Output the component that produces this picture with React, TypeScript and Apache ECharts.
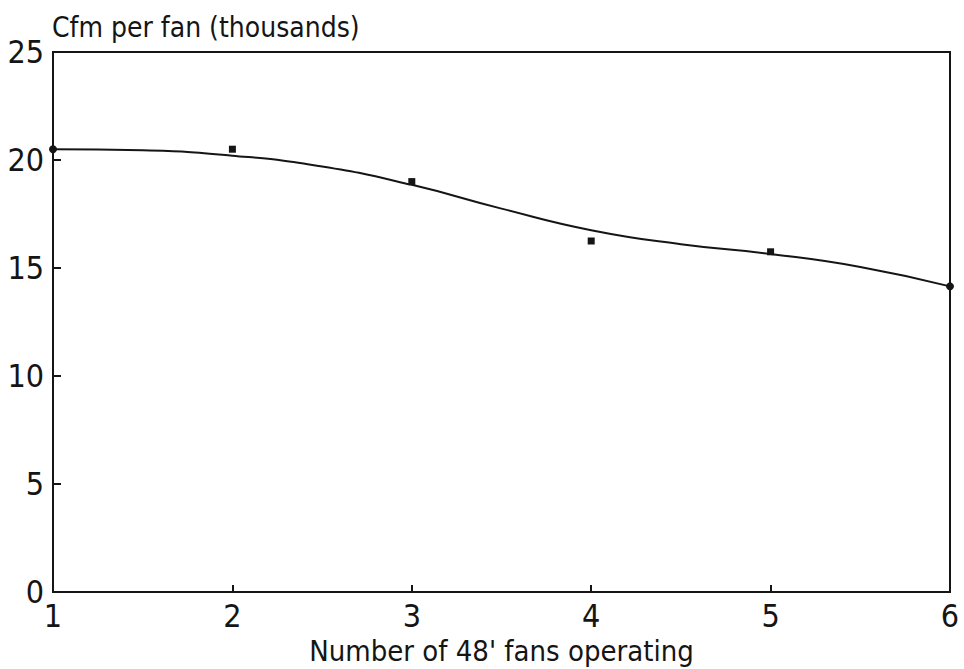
import React, { useEffect, useRef } from "react";
import * as echarts from "echarts";

const fanCounts = [1, 2, 3, 4, 5, 6];
const cfmMeasured = [20.5, 20.5, 19.0, 16.25, 15.75, 14.15];
const curveX = [1, 1.5, 2, 2.5, 3, 3.5, 4, 4.5, 5, 5.5, 6];
const curveY = [20.5, 20.45, 20.2, 19.7, 18.85, 17.75, 16.75, 16.1, 15.65, 15.05, 14.15];
const yTicks = [0, 5, 10, 15, 20, 25];

const FONT = "'DejaVu Sans Condensed', 'DejaVu Sans', sans-serif";
const INK = "#151515";

export default function App() {
  const ref = useRef<HTMLDivElement>(null);
  useEffect(() => {
    if (!ref.current) return;
    const chart = echarts.init(ref.current, undefined, { renderer: "svg" });
    const endIdx = [0, fanCounts.length - 1];
    chart.setOption({
      animation: false,
      backgroundColor: "#ffffff",
      title: {
        text: "Cfm per fan (thousands)",
        left: 47,
        top: 8,
        textStyle: { fontFamily: FONT, fontSize: 28, fontWeight: "normal", color: INK },
      },
      grid: {
        left: 53,
        right: 14,
        top: 52,
        bottom: 77,
        outerBoundsMode: "none",
        containLabel: false,
        show: true,
        borderColor: INK,
        borderWidth: 2,
        backgroundColor: "transparent",
      },
      xAxis: {
        type: "value",
        min: 1,
        max: 6,
        interval: 1,
        name: "Number of 48' fans operating",
        nameLocation: "middle",
        nameGap: 37,
        nameTextStyle: { fontFamily: FONT, fontSize: 29, color: INK },
        axisLine: { show: true, lineStyle: { color: INK, width: 2 } },
        axisTick: { show: true, inside: true, length: 7, lineStyle: { color: INK, width: 2 } },
        axisLabel: { fontFamily: FONT, fontSize: 32, color: INK, margin: 8 },
        splitLine: { show: false },
      },
      yAxis: {
        type: "value",
        min: 0,
        max: 25,
        interval: 5,
        axisLine: { show: true, lineStyle: { color: INK, width: 2 } },
        axisTick: { show: true, inside: true, length: 8, lineStyle: { color: INK, width: 2 } },
        axisLabel: {
          fontFamily: FONT,
          fontSize: 32,
          color: INK,
          margin: 9,
          formatter: (v: number) => (yTicks.includes(v) ? String(v) : ""),
        },
        splitLine: { show: false },
      },
      series: [
        {
          type: "line",
          data: curveX.map((x, i) => [x, curveY[i]]),
          smooth: 0.5,
          showSymbol: false,
          symbol: "none",
          lineStyle: { color: INK, width: 2 },
          z: 2,
        },
        {
          type: "scatter",
          data: fanCounts.map((x, i) => ({
            value: [x, cfmMeasured[i]],
            symbol: endIdx.includes(i) ? "circle" : "rect",
            symbolSize: endIdx.includes(i) ? 8 : 7,
          })),
          itemStyle: { color: INK, opacity: 1 },
          z: 3,
        },
      ],
    });
    return () => chart.dispose();
  }, []);
  return (
    <>
      <style>{"#root svg text { font-stretch: condensed !important; }"}</style>
      <div ref={ref} style={{ width: 964, height: 669, position: "absolute", left: 0, top: 0 }} />
    </>
  );
}
